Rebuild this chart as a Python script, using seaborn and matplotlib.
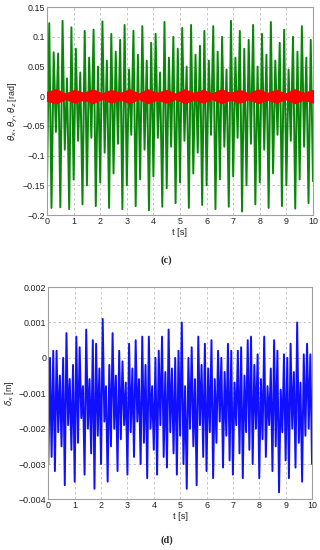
import numpy as np
import pandas as pd
import matplotlib
matplotlib.use("Agg")
import matplotlib.pyplot as plt
import seaborn as sns

# ---- data (local extrema, alternating) ----
# (c) theta_x : green, peaks / troughs, about 6 cycles per second
theta_peaks = [
    0.123, 0.074, 0.072, 0.127, 0.030, 0.116,
    0.080, 0.040, 0.110, 0.065, 0.112, 0.050,
    0.126, 0.060, 0.105, 0.075, 0.095, 0.120,
    0.045, 0.110, 0.070, 0.118, 0.060, 0.090,
    0.105, 0.040, 0.125, 0.065, 0.100, 0.080,
    0.115, 0.050, 0.120, 0.070, 0.085, 0.110,
    0.060, 0.118, 0.075, 0.100, 0.045, 0.127,
    0.065, 0.110, 0.080, 0.095, 0.120, 0.050,
    0.105, 0.070, 0.125, 0.060, 0.090, 0.112,
    0.045, 0.100, 0.075, 0.118, 0.065, 0.095,
]
theta_troughs = [
    -0.143, -0.188, -0.060, -0.187, -0.090, -0.190,
    -0.140, -0.075, -0.182, -0.150, -0.070, -0.185,
    -0.145, -0.095, -0.188, -0.130, -0.080, -0.190,
    -0.150, -0.065, -0.185, -0.140, -0.090, -0.192,
    -0.135, -0.070, -0.186, -0.155, -0.085, -0.180,
    -0.145, -0.075, -0.188, -0.130, -0.095, -0.183,
    -0.150, -0.065, -0.190, -0.140, -0.085, -0.186,
    -0.135, -0.070, -0.194, -0.150, -0.080, -0.182,
    -0.145, -0.090, -0.188, -0.130, -0.065, -0.185,
    -0.150, -0.075, -0.189, -0.140, -0.085, -0.180,
]
# (c) theta_z : red band, envelope amplitude (beating) sampled along t
theta_z_env = [
    0.007, 0.011, 0.004, 0.010, 0.005, 0.011, 0.004, 0.010, 0.005, 0.011,
    0.004, 0.011, 0.005, 0.010, 0.004, 0.011, 0.005, 0.010, 0.004, 0.011,
    0.005, 0.010, 0.004, 0.011, 0.005, 0.010, 0.004, 0.011, 0.005, 0.010,
]

# (d) delta_x : blue, peaks / troughs, about 8 cycles per second
delta_peaks = [
    0.0000, 0.0002, 0.0002, -0.0005, 0.0000, 0.0007, -0.0006, -0.0002,
    0.0006, 0.0003, -0.0008, 0.0008, -0.0006, 0.0005, 0.0004, -0.0003,
    0.0011, -0.0008, -0.0002, 0.0007, -0.0005, 0.0002, -0.0001, -0.0007,
    0.0004, -0.0003, 0.0005, -0.0006, 0.0006, -0.0002, 0.0006, -0.0008,
    0.0000, 0.0002, 0.0006, -0.0004, 0.0008, -0.0003, 0.0000, 0.0002,
    0.0010, -0.0008, 0.0000, 0.0003, -0.0006, 0.0006, -0.0002, 0.0004,
    -0.0003, 0.0005, -0.0006, 0.0002, 0.0000, -0.0004, 0.0004, 0.0002,
    -0.0007, 0.0002, 0.0003, -0.0005, 0.0005, 0.0006, -0.0002, 0.0001,
    -0.0006, 0.0006, -0.0008, -0.0003, 0.0005, 0.0002, -0.0009, 0.0001,
    0.0000, 0.0004, -0.0004, 0.0010, -0.0007, 0.0001, 0.0004, 0.0001,
]
delta_troughs = [
    -0.0030, -0.0028, -0.0032, -0.0021, -0.0025, -0.0036, -0.0019, -0.0026,
    -0.0035, -0.0024, -0.0017, -0.0033, -0.0020, -0.0027, -0.0037, -0.0022,
    -0.0030, -0.0018, -0.0035, -0.0025, -0.0020, -0.0032, -0.0023, -0.0019,
    -0.0033, -0.0021, -0.0028, -0.0018, -0.0030, -0.0024, -0.0034, -0.0020,
    -0.0026, -0.0033, -0.0019, -0.0028, -0.0031, -0.0021, -0.0027, -0.0033,
    -0.0022, -0.0030, -0.0037, -0.0020, -0.0025, -0.0036, -0.0019, -0.0028,
    -0.0032, -0.0021, -0.0034, -0.0024, -0.0018, -0.0031, -0.0022, -0.0029,
    -0.0033, -0.0019, -0.0027, -0.0034, -0.0021, -0.0026, -0.0030, -0.0020,
    -0.0034, -0.0023, -0.0028, -0.0019, -0.0032, -0.0025, -0.0038, -0.0021,
    -0.0029, -0.0034, -0.0020, -0.0031, -0.0024, -0.0035, -0.0022, -0.0020,
]

t_ticks = list(range(0, 11))
c_yticks = [0.15, 0.1, 0.05, 0, -0.05, -0.1, -0.15, -0.2]
c_ylabels = ["0.15", "0.1", "0.05", "0", "\u22120.05", "\u22120.1", "\u22120.15", "\u22120.2"]
d_yticks = [0.002, 0.001, 0, -0.001, -0.002, -0.003, -0.004]
d_ylabels = ["0.002", "0.001", "0", "\u22120.001", "\u22120.002", "\u22120.003", "\u22120.004"]


def interleave(troughs, peaks):
    vals = []
    for lo, hi in zip(troughs, peaks):
        vals += [lo, hi]
    vals.append(troughs[0])
    return vals


theta_vals = interleave(theta_troughs, theta_peaks)
theta_df = pd.DataFrame({"t": np.linspace(0, 10, len(theta_vals)), "v": theta_vals})
env_t = np.linspace(0, 10, len(theta_z_env))
delta_vals = interleave(delta_troughs, delta_peaks)
delta_df = pd.DataFrame({"t": np.linspace(0, 10, len(delta_vals)), "v": delta_vals})

sns.set_style("whitegrid")
plt.rcParams["font.family"] = ["Liberation Sans", "DejaVu Sans"]
plt.rcParams["mathtext.fontset"] = "dejavusans"

fig = plt.figure(figsize=(3.2, 5.5), dpi=100)
ax1 = fig.add_axes([0.147, 0.609, 0.831, 0.378])
ax2 = fig.add_axes([0.151, 0.092, 0.824, 0.386])


def style_axes(ax, yticks, ylabels, ylim):
    ax.set_facecolor("white")
    ax.set_xlim(0, 10)
    ax.set_ylim(*ylim)
    ax.set_xticks(t_ticks)
    ax.set_xticklabels([str(v) for v in t_ticks])
    ax.set_yticks(yticks)
    ax.set_yticklabels(ylabels)
    ax.grid(True, color="#bdbdbd", linestyle=(0, (3, 3)), linewidth=0.6)
    for s in ax.spines.values():
        s.set_color("#a0a0a0")
        s.set_linewidth(0.8)
    ax.tick_params(axis="both", labelsize=6.4, length=2, direction="in",
                   color="#a0a0a0", pad=1.5, labelcolor="#222222")
    ax.set_xlabel("t [s]", fontsize=6.6, labelpad=1, color="#222222")


sns.lineplot(data=theta_df, x="t", y="v", ax=ax1, color="#0a860a",
             linewidth=1.4, estimator=None, sort=False)
ax1.plot([0, 10], [0, 0], color="#2020ff", linewidth=0.6)
ax1.fill_between(env_t, [-a for a in theta_z_env], theta_z_env,
                 color="#ff0000", linewidth=1.4, edgecolor="#ff0000", zorder=3)
style_axes(ax1, c_yticks, c_ylabels, (-0.2, 0.15))
ax1.set_ylabel(r"$\theta_x$, $\theta_y$, $\theta_z$ [rad]", fontsize=6.4, labelpad=2,
               color="#222222")

sns.lineplot(data=delta_df, x="t", y="v", ax=ax2, color="#1010ff",
             linewidth=1.4, estimator=None, sort=False)
style_axes(ax2, d_yticks, d_ylabels, (-0.004, 0.002))
ax2.set_ylabel(r"$\delta_x$ [m]", fontsize=6.4, labelpad=2, color="#222222")

fig.text(0.52, 0.527, "(c)", ha="center", va="center", fontsize=7.5,
         fontweight="bold", family="Liberation Serif")
fig.text(0.52, 0.018, "(d)", ha="center", va="center", fontsize=7.5,
         fontweight="bold", family="Liberation Serif")

fig.savefig("out.png", dpi=100)
